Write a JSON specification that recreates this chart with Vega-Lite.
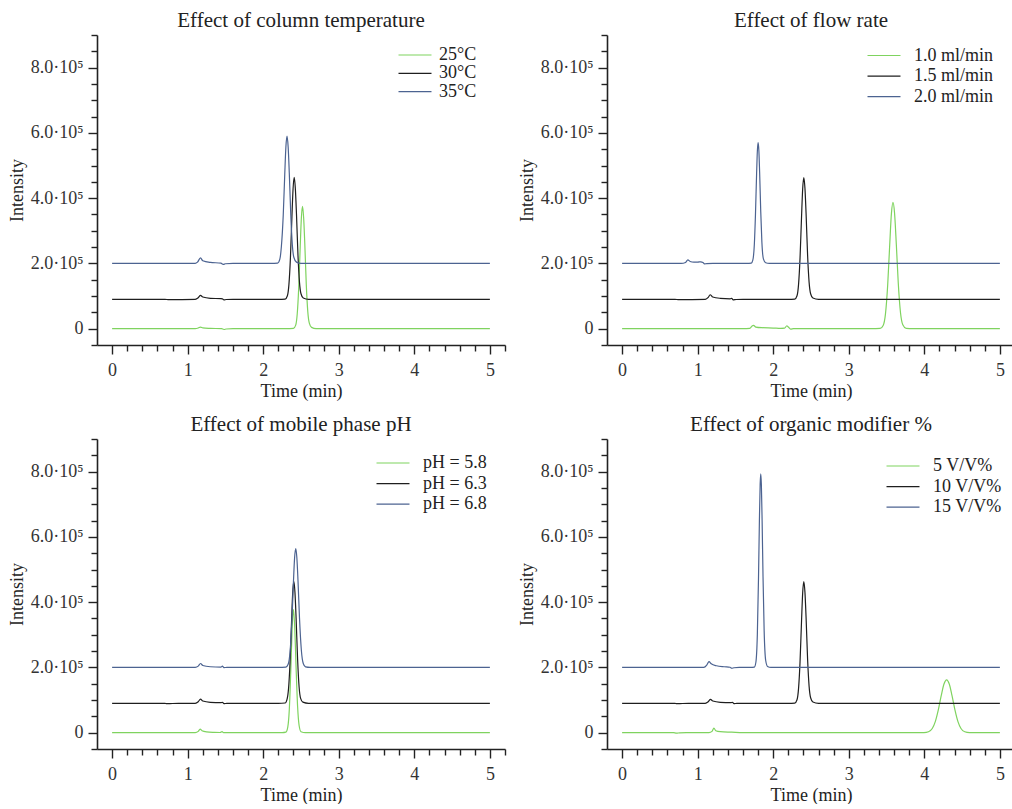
{
  "$schema": "https://vega.github.io/schema/vega-lite/v6.json",
  "background": "white",
  "padding": {"left": 8, "top": 10, "right": 0, "bottom": 0},
  "config": {
    "font": "Liberation Serif",
    "view": {"stroke": null},
    "axis": {
      "grid": false,
      "domainColor": "#222222",
      "domainWidth": 1.6,
      "tickColor": "#222222",
      "tickWidth": 1.4,
      "labelFont": "Liberation Serif",
      "labelFontSize": 18,
      "labelColor": "#333333",
      "labelOverlap": false,
      "labelFlush": false,
      "titleFont": "Liberation Serif",
      "titleFontSize": 18,
      "titleFontWeight": "normal",
      "titleColor": "#222222"
    },
    "title": {"font": "Liberation Serif", "fontSize": 21, "fontWeight": "normal", "color": "#222222", "baseline": "alphabetic", "offset": -5, "anchor": "middle", "frame": "group"},
    "legend": {
      "orient": "none",
      "title": null,
      "symbolType": "M-2,0H2",
      "symbolSize": 272,
      "symbolStrokeWidth": 1.5,
      "labelFont": "Liberation Serif",
      "labelFontSize": 18,
      "labelColor": "#222222",
      "rowPadding": 2.6,
      "padding": 0
    },
    "line": {"strokeWidth": 1.2, "interpolate": "monotone"}
  },
  "datasets": {
    "p1": [
      {"s": "25°C", "t": 0, "y": 0}, {"s": "25°C", "t": 0.7, "y": 0}, {"s": "25°C", "t": 1.1, "y": 0}, {"s": "25°C", "t": 1.14, "y": 2000}, {"s": "25°C", "t": 1.17, "y": 5000}, {"s": "25°C", "t": 1.2, "y": 2500}, {"s": "25°C", "t": 1.3, "y": 1000}, {"s": "25°C", "t": 1.45, "y": 0}, {"s": "25°C", "t": 1.48, "y": -2500}, {"s": "25°C", "t": 1.51, "y": -1000}, {"s": "25°C", "t": 1.6, "y": 0}, {"s": "25°C", "t": 2.3, "y": 0},
      {"s": "25°C", "t": 2.4, "y": 1000}, {"s": "25°C", "t": 2.43, "y": 11000}, {"s": "25°C", "t": 2.45, "y": 45000}, {"s": "25°C", "t": 2.47, "y": 127000}, {"s": "25°C", "t": 2.49, "y": 254000}, {"s": "25°C", "t": 2.505, "y": 340000}, {"s": "25°C", "t": 2.52, "y": 375000}, {"s": "25°C", "t": 2.535, "y": 340000}, {"s": "25°C", "t": 2.55, "y": 262000}, {"s": "25°C", "t": 2.57, "y": 135000}, {"s": "25°C", "t": 2.59, "y": 52000}, {"s": "25°C", "t": 2.61, "y": 17000}, {"s": "25°C", "t": 2.64, "y": 4000}, {"s": "25°C", "t": 2.7, "y": 0}, {"s": "25°C", "t": 5.0, "y": 0},
      {"s": "30°C", "t": 0, "y": 90000}, {"s": "30°C", "t": 0.7, "y": 90000}, {"s": "30°C", "t": 0.75, "y": 89000}, {"s": "30°C", "t": 1.1, "y": 90000}, {"s": "30°C", "t": 1.14, "y": 95000}, {"s": "30°C", "t": 1.17, "y": 102000}, {"s": "30°C", "t": 1.2, "y": 97000}, {"s": "30°C", "t": 1.3, "y": 93000}, {"s": "30°C", "t": 1.44, "y": 92000}, {"s": "30°C", "t": 1.46, "y": 91500}, {"s": "30°C", "t": 1.48, "y": 88000}, {"s": "30°C", "t": 1.51, "y": 89500}, {"s": "30°C", "t": 1.6, "y": 90000}, {"s": "30°C", "t": 2.2, "y": 90000},
      {"s": "30°C", "t": 2.29, "y": 90700}, {"s": "30°C", "t": 2.32, "y": 101000}, {"s": "30°C", "t": 2.34, "y": 135000}, {"s": "30°C", "t": 2.36, "y": 217000}, {"s": "30°C", "t": 2.38, "y": 344000}, {"s": "30°C", "t": 2.395, "y": 429000}, {"s": "30°C", "t": 2.41, "y": 464000}, {"s": "30°C", "t": 2.425, "y": 430000}, {"s": "30°C", "t": 2.44, "y": 352000}, {"s": "30°C", "t": 2.46, "y": 225000}, {"s": "30°C", "t": 2.48, "y": 142000}, {"s": "30°C", "t": 2.5, "y": 107000}, {"s": "30°C", "t": 2.53, "y": 94000}, {"s": "30°C", "t": 2.6, "y": 90000}, {"s": "30°C", "t": 5.0, "y": 90000},
      {"s": "35°C", "t": 0, "y": 200000}, {"s": "35°C", "t": 1.1, "y": 200000}, {"s": "35°C", "t": 1.13, "y": 204000}, {"s": "35°C", "t": 1.17, "y": 217000}, {"s": "35°C", "t": 1.2, "y": 208000}, {"s": "35°C", "t": 1.3, "y": 203000}, {"s": "35°C", "t": 1.44, "y": 201000}, {"s": "35°C", "t": 1.47, "y": 197000}, {"s": "35°C", "t": 1.5, "y": 199000}, {"s": "35°C", "t": 1.6, "y": 200000}, {"s": "35°C", "t": 2.1, "y": 200000},
      {"s": "35°C", "t": 2.19, "y": 200800}, {"s": "35°C", "t": 2.22, "y": 213000}, {"s": "35°C", "t": 2.24, "y": 251000}, {"s": "35°C", "t": 2.265, "y": 348000}, {"s": "35°C", "t": 2.285, "y": 473000}, {"s": "35°C", "t": 2.3, "y": 557000}, {"s": "35°C", "t": 2.315, "y": 590000}, {"s": "35°C", "t": 2.33, "y": 557000}, {"s": "35°C", "t": 2.345, "y": 477000}, {"s": "35°C", "t": 2.365, "y": 348000}, {"s": "35°C", "t": 2.385, "y": 258000}, {"s": "35°C", "t": 2.405, "y": 219000}, {"s": "35°C", "t": 2.44, "y": 204000}, {"s": "35°C", "t": 2.5, "y": 200000}, {"s": "35°C", "t": 5.0, "y": 200000}
    ],
    "p2": [
      {"s": "1.0 ml/min", "t": 0, "y": 0}, {"s": "1.0 ml/min", "t": 1.6, "y": 0}, {"s": "1.0 ml/min", "t": 1.69, "y": 1000}, {"s": "1.0 ml/min", "t": 1.72, "y": 8000}, {"s": "1.0 ml/min", "t": 1.74, "y": 10000}, {"s": "1.0 ml/min", "t": 1.77, "y": 5000}, {"s": "1.0 ml/min", "t": 1.85, "y": 3000}, {"s": "1.0 ml/min", "t": 2.0, "y": 2000}, {"s": "1.0 ml/min", "t": 2.1, "y": 1000}, {"s": "1.0 ml/min", "t": 2.15, "y": 1500}, {"s": "1.0 ml/min", "t": 2.18, "y": 9000}, {"s": "1.0 ml/min", "t": 2.2, "y": 5000}, {"s": "1.0 ml/min", "t": 2.23, "y": -1500}, {"s": "1.0 ml/min", "t": 2.27, "y": 0}, {"s": "1.0 ml/min", "t": 3.3, "y": 0},
      {"s": "1.0 ml/min", "t": 3.415, "y": 700}, {"s": "1.0 ml/min", "t": 3.455, "y": 10000}, {"s": "1.0 ml/min", "t": 3.485, "y": 44000}, {"s": "1.0 ml/min", "t": 3.515, "y": 134000}, {"s": "1.0 ml/min", "t": 3.54, "y": 249000}, {"s": "1.0 ml/min", "t": 3.565, "y": 355000}, {"s": "1.0 ml/min", "t": 3.585, "y": 387000}, {"s": "1.0 ml/min", "t": 3.605, "y": 357000}, {"s": "1.0 ml/min", "t": 3.63, "y": 255000}, {"s": "1.0 ml/min", "t": 3.655, "y": 140000}, {"s": "1.0 ml/min", "t": 3.685, "y": 48000}, {"s": "1.0 ml/min", "t": 3.715, "y": 12000}, {"s": "1.0 ml/min", "t": 3.76, "y": 1000}, {"s": "1.0 ml/min", "t": 3.85, "y": 0}, {"s": "1.0 ml/min", "t": 5.0, "y": 0},
      {"s": "1.5 ml/min", "t": 0, "y": 90000}, {"s": "1.5 ml/min", "t": 0.7, "y": 90000}, {"s": "1.5 ml/min", "t": 0.75, "y": 89000}, {"s": "1.5 ml/min", "t": 1.1, "y": 90000}, {"s": "1.5 ml/min", "t": 1.14, "y": 96000}, {"s": "1.5 ml/min", "t": 1.165, "y": 104000}, {"s": "1.5 ml/min", "t": 1.2, "y": 97000}, {"s": "1.5 ml/min", "t": 1.3, "y": 93000}, {"s": "1.5 ml/min", "t": 1.43, "y": 91500}, {"s": "1.5 ml/min", "t": 1.45, "y": 93000}, {"s": "1.5 ml/min", "t": 1.47, "y": 88500}, {"s": "1.5 ml/min", "t": 1.51, "y": 89500}, {"s": "1.5 ml/min", "t": 1.6, "y": 90000}, {"s": "1.5 ml/min", "t": 2.2, "y": 90000},
      {"s": "1.5 ml/min", "t": 2.285, "y": 90700}, {"s": "1.5 ml/min", "t": 2.315, "y": 101000}, {"s": "1.5 ml/min", "t": 2.335, "y": 135000}, {"s": "1.5 ml/min", "t": 2.355, "y": 217000}, {"s": "1.5 ml/min", "t": 2.375, "y": 344000}, {"s": "1.5 ml/min", "t": 2.39, "y": 429000}, {"s": "1.5 ml/min", "t": 2.405, "y": 463000}, {"s": "1.5 ml/min", "t": 2.42, "y": 430000}, {"s": "1.5 ml/min", "t": 2.435, "y": 352000}, {"s": "1.5 ml/min", "t": 2.455, "y": 225000}, {"s": "1.5 ml/min", "t": 2.475, "y": 142000}, {"s": "1.5 ml/min", "t": 2.495, "y": 107000}, {"s": "1.5 ml/min", "t": 2.525, "y": 94000}, {"s": "1.5 ml/min", "t": 2.6, "y": 90000}, {"s": "1.5 ml/min", "t": 5.0, "y": 90000},
      {"s": "2.0 ml/min", "t": 0, "y": 200000}, {"s": "2.0 ml/min", "t": 0.78, "y": 200000}, {"s": "2.0 ml/min", "t": 0.84, "y": 203000}, {"s": "2.0 ml/min", "t": 0.87, "y": 211000}, {"s": "2.0 ml/min", "t": 0.9, "y": 206000}, {"s": "2.0 ml/min", "t": 0.95, "y": 204000}, {"s": "2.0 ml/min", "t": 1.0, "y": 204000}, {"s": "2.0 ml/min", "t": 1.04, "y": 205000}, {"s": "2.0 ml/min", "t": 1.07, "y": 203000}, {"s": "2.0 ml/min", "t": 1.09, "y": 198500}, {"s": "2.0 ml/min", "t": 1.12, "y": 199500}, {"s": "2.0 ml/min", "t": 1.2, "y": 200000}, {"s": "2.0 ml/min", "t": 1.65, "y": 200000},
      {"s": "2.0 ml/min", "t": 1.71, "y": 200900}, {"s": "2.0 ml/min", "t": 1.73, "y": 210000}, {"s": "2.0 ml/min", "t": 1.75, "y": 258000}, {"s": "2.0 ml/min", "t": 1.765, "y": 350000}, {"s": "2.0 ml/min", "t": 1.78, "y": 475000}, {"s": "2.0 ml/min", "t": 1.79, "y": 544000}, {"s": "2.0 ml/min", "t": 1.8, "y": 570000}, {"s": "2.0 ml/min", "t": 1.81, "y": 546000}, {"s": "2.0 ml/min", "t": 1.82, "y": 480000}, {"s": "2.0 ml/min", "t": 1.835, "y": 358000}, {"s": "2.0 ml/min", "t": 1.85, "y": 265000}, {"s": "2.0 ml/min", "t": 1.87, "y": 214000}, {"s": "2.0 ml/min", "t": 1.9, "y": 202000}, {"s": "2.0 ml/min", "t": 1.95, "y": 200000}, {"s": "2.0 ml/min", "t": 5.0, "y": 200000}
    ],
    "p3": [
      {"s": "pH = 5.8", "t": 0, "y": 0}, {"s": "pH = 5.8", "t": 1.1, "y": 0}, {"s": "pH = 5.8", "t": 1.14, "y": 4000}, {"s": "pH = 5.8", "t": 1.165, "y": 11000}, {"s": "pH = 5.8", "t": 1.19, "y": 6000}, {"s": "pH = 5.8", "t": 1.25, "y": 2500}, {"s": "pH = 5.8", "t": 1.35, "y": 1000}, {"s": "pH = 5.8", "t": 1.43, "y": 500}, {"s": "pH = 5.8", "t": 1.455, "y": 3500}, {"s": "pH = 5.8", "t": 1.475, "y": 0}, {"s": "pH = 5.8", "t": 1.55, "y": 0}, {"s": "pH = 5.8", "t": 2.25, "y": 0},
      {"s": "pH = 5.8", "t": 2.3, "y": 1500}, {"s": "pH = 5.8", "t": 2.325, "y": 17000}, {"s": "pH = 5.8", "t": 2.345, "y": 70000}, {"s": "pH = 5.8", "t": 2.365, "y": 191000}, {"s": "pH = 5.8", "t": 2.382, "y": 315000}, {"s": "pH = 5.8", "t": 2.4, "y": 377000}, {"s": "pH = 5.8", "t": 2.418, "y": 318000}, {"s": "pH = 5.8", "t": 2.435, "y": 200000}, {"s": "pH = 5.8", "t": 2.455, "y": 80000}, {"s": "pH = 5.8", "t": 2.475, "y": 22000}, {"s": "pH = 5.8", "t": 2.5, "y": 3000}, {"s": "pH = 5.8", "t": 2.56, "y": 0}, {"s": "pH = 5.8", "t": 5.0, "y": 0},
      {"s": "pH = 6.3", "t": 0, "y": 90000}, {"s": "pH = 6.3", "t": 0.7, "y": 90000}, {"s": "pH = 6.3", "t": 0.72, "y": 89000}, {"s": "pH = 6.3", "t": 0.8, "y": 89500}, {"s": "pH = 6.3", "t": 1.1, "y": 90000}, {"s": "pH = 6.3", "t": 1.14, "y": 95000}, {"s": "pH = 6.3", "t": 1.17, "y": 103000}, {"s": "pH = 6.3", "t": 1.2, "y": 97000}, {"s": "pH = 6.3", "t": 1.3, "y": 93000}, {"s": "pH = 6.3", "t": 1.44, "y": 92000}, {"s": "pH = 6.3", "t": 1.46, "y": 93000}, {"s": "pH = 6.3", "t": 1.48, "y": 89000}, {"s": "pH = 6.3", "t": 1.52, "y": 90000}, {"s": "pH = 6.3", "t": 2.2, "y": 90000},
      {"s": "pH = 6.3", "t": 2.29, "y": 91000}, {"s": "pH = 6.3", "t": 2.315, "y": 102000}, {"s": "pH = 6.3", "t": 2.335, "y": 135000}, {"s": "pH = 6.3", "t": 2.355, "y": 215000}, {"s": "pH = 6.3", "t": 2.375, "y": 340000}, {"s": "pH = 6.3", "t": 2.39, "y": 428000}, {"s": "pH = 6.3", "t": 2.405, "y": 464000}, {"s": "pH = 6.3", "t": 2.42, "y": 430000}, {"s": "pH = 6.3", "t": 2.435, "y": 352000}, {"s": "pH = 6.3", "t": 2.455, "y": 225000}, {"s": "pH = 6.3", "t": 2.475, "y": 140000}, {"s": "pH = 6.3", "t": 2.495, "y": 105000}, {"s": "pH = 6.3", "t": 2.525, "y": 93500}, {"s": "pH = 6.3", "t": 2.6, "y": 90000}, {"s": "pH = 6.3", "t": 5.0, "y": 90000},
      {"s": "pH = 6.8", "t": 0, "y": 200000}, {"s": "pH = 6.8", "t": 1.1, "y": 200000}, {"s": "pH = 6.8", "t": 1.14, "y": 204000}, {"s": "pH = 6.8", "t": 1.17, "y": 212000}, {"s": "pH = 6.8", "t": 1.2, "y": 206000}, {"s": "pH = 6.8", "t": 1.3, "y": 202000}, {"s": "pH = 6.8", "t": 1.44, "y": 201000}, {"s": "pH = 6.8", "t": 1.46, "y": 204000}, {"s": "pH = 6.8", "t": 1.48, "y": 199500}, {"s": "pH = 6.8", "t": 1.52, "y": 200000}, {"s": "pH = 6.8", "t": 2.2, "y": 200000},
      {"s": "pH = 6.8", "t": 2.3, "y": 200800}, {"s": "pH = 6.8", "t": 2.33, "y": 209500}, {"s": "pH = 6.8", "t": 2.355, "y": 247000}, {"s": "pH = 6.8", "t": 2.38, "y": 346000}, {"s": "pH = 6.8", "t": 2.4, "y": 462000}, {"s": "pH = 6.8", "t": 2.415, "y": 535000}, {"s": "pH = 6.8", "t": 2.43, "y": 564000}, {"s": "pH = 6.8", "t": 2.445, "y": 537000}, {"s": "pH = 6.8", "t": 2.46, "y": 468000}, {"s": "pH = 6.8", "t": 2.48, "y": 352000}, {"s": "pH = 6.8", "t": 2.505, "y": 252000}, {"s": "pH = 6.8", "t": 2.53, "y": 212000}, {"s": "pH = 6.8", "t": 2.56, "y": 201500}, {"s": "pH = 6.8", "t": 2.62, "y": 200000}, {"s": "pH = 6.8", "t": 5.0, "y": 200000}
    ],
    "p4": [
      {"s": "5 V/V%", "t": 0, "y": 0}, {"s": "5 V/V%", "t": 0.68, "y": 0}, {"s": "5 V/V%", "t": 0.72, "y": -1500}, {"s": "5 V/V%", "t": 0.76, "y": -500}, {"s": "5 V/V%", "t": 0.85, "y": 0}, {"s": "5 V/V%", "t": 1.15, "y": 0}, {"s": "5 V/V%", "t": 1.19, "y": 4000}, {"s": "5 V/V%", "t": 1.215, "y": 14000}, {"s": "5 V/V%", "t": 1.24, "y": 6000}, {"s": "5 V/V%", "t": 1.3, "y": 3000}, {"s": "5 V/V%", "t": 1.45, "y": 1500}, {"s": "5 V/V%", "t": 1.6, "y": 0}, {"s": "5 V/V%", "t": 3.9, "y": 0},
      {"s": "5 V/V%", "t": 3.995, "y": 300}, {"s": "5 V/V%", "t": 4.055, "y": 3000}, {"s": "5 V/V%", "t": 4.105, "y": 13000}, {"s": "5 V/V%", "t": 4.145, "y": 34000}, {"s": "5 V/V%", "t": 4.185, "y": 70000}, {"s": "5 V/V%", "t": 4.225, "y": 115000}, {"s": "5 V/V%", "t": 4.26, "y": 149000}, {"s": "5 V/V%", "t": 4.295, "y": 162000}, {"s": "5 V/V%", "t": 4.33, "y": 149000}, {"s": "5 V/V%", "t": 4.365, "y": 115000}, {"s": "5 V/V%", "t": 4.405, "y": 70000}, {"s": "5 V/V%", "t": 4.445, "y": 34000}, {"s": "5 V/V%", "t": 4.485, "y": 13000}, {"s": "5 V/V%", "t": 4.535, "y": 3000}, {"s": "5 V/V%", "t": 4.6, "y": 300}, {"s": "5 V/V%", "t": 4.7, "y": 0}, {"s": "5 V/V%", "t": 5.0, "y": 0},
      {"s": "10 V/V%", "t": 0, "y": 90000}, {"s": "10 V/V%", "t": 0.7, "y": 90000}, {"s": "10 V/V%", "t": 0.72, "y": 89000}, {"s": "10 V/V%", "t": 0.8, "y": 89500}, {"s": "10 V/V%", "t": 1.1, "y": 90000}, {"s": "10 V/V%", "t": 1.14, "y": 95000}, {"s": "10 V/V%", "t": 1.17, "y": 102000}, {"s": "10 V/V%", "t": 1.2, "y": 97000}, {"s": "10 V/V%", "t": 1.3, "y": 93000}, {"s": "10 V/V%", "t": 1.44, "y": 92000}, {"s": "10 V/V%", "t": 1.46, "y": 93000}, {"s": "10 V/V%", "t": 1.48, "y": 89000}, {"s": "10 V/V%", "t": 1.52, "y": 90000}, {"s": "10 V/V%", "t": 2.2, "y": 90000},
      {"s": "10 V/V%", "t": 2.285, "y": 90700}, {"s": "10 V/V%", "t": 2.315, "y": 101000}, {"s": "10 V/V%", "t": 2.335, "y": 135000}, {"s": "10 V/V%", "t": 2.355, "y": 217000}, {"s": "10 V/V%", "t": 2.375, "y": 344000}, {"s": "10 V/V%", "t": 2.39, "y": 429000}, {"s": "10 V/V%", "t": 2.405, "y": 463000}, {"s": "10 V/V%", "t": 2.42, "y": 430000}, {"s": "10 V/V%", "t": 2.435, "y": 352000}, {"s": "10 V/V%", "t": 2.455, "y": 225000}, {"s": "10 V/V%", "t": 2.475, "y": 142000}, {"s": "10 V/V%", "t": 2.495, "y": 107000}, {"s": "10 V/V%", "t": 2.525, "y": 94000}, {"s": "10 V/V%", "t": 2.6, "y": 90000}, {"s": "10 V/V%", "t": 5.0, "y": 90000},
      {"s": "15 V/V%", "t": 0, "y": 200000}, {"s": "15 V/V%", "t": 1.08, "y": 200000}, {"s": "15 V/V%", "t": 1.12, "y": 207000}, {"s": "15 V/V%", "t": 1.15, "y": 218000}, {"s": "15 V/V%", "t": 1.18, "y": 211000}, {"s": "15 V/V%", "t": 1.25, "y": 205000}, {"s": "15 V/V%", "t": 1.35, "y": 202000}, {"s": "15 V/V%", "t": 1.43, "y": 200500}, {"s": "15 V/V%", "t": 1.45, "y": 197500}, {"s": "15 V/V%", "t": 1.48, "y": 199000}, {"s": "15 V/V%", "t": 1.55, "y": 200000}, {"s": "15 V/V%", "t": 1.7, "y": 200000},
      {"s": "15 V/V%", "t": 1.75, "y": 201100}, {"s": "15 V/V%", "t": 1.77, "y": 215000}, {"s": "15 V/V%", "t": 1.79, "y": 302000}, {"s": "15 V/V%", "t": 1.805, "y": 472000}, {"s": "15 V/V%", "t": 1.817, "y": 648000}, {"s": "15 V/V%", "t": 1.827, "y": 761000}, {"s": "15 V/V%", "t": 1.835, "y": 793000}, {"s": "15 V/V%", "t": 1.843, "y": 761000}, {"s": "15 V/V%", "t": 1.853, "y": 650000}, {"s": "15 V/V%", "t": 1.865, "y": 478000}, {"s": "15 V/V%", "t": 1.88, "y": 312000}, {"s": "15 V/V%", "t": 1.9, "y": 222000}, {"s": "15 V/V%", "t": 1.925, "y": 203000}, {"s": "15 V/V%", "t": 1.97, "y": 200000}, {"s": "15 V/V%", "t": 5.0, "y": 200000}
    ]
  },
  "columns": 2,
  "spacing": {"column": 12, "row": 14},
  "resolve": {"scale": {"color": "independent"}, "legend": {"color": "independent"}},
  "concat": [
    {
      "title": "Effect of column temperature",
      "width": 408, "height": 310,
      "data": {"name": "p1"},
      "mark": {"type": "line"},
      "encoding": {
        "x": {"field": "t", "type": "quantitative", "scale": {"domain": [-0.2, 5.2], "nice": false, "zero": false},
          "axis": {"title": "Time (min)", "labelFont": "Liberation Serif", "labelFontSize": 18, "titleFont": "Liberation Serif", "titleFontSize": 18, "values": [0, 0.2, 0.4, 0.6, 0.8, 1, 1.2, 1.4, 1.6, 1.8, 2, 2.2, 2.4, 2.6, 2.8, 3, 3.2, 3.4, 3.6, 3.8, 4, 4.2, 4.4, 4.6, 4.8, 5, 5.2],
            "labelExpr": "abs(datum.value - round(datum.value)) < 0.001 && datum.value < 5.1 ? format(datum.value, 'd') : ''",
            "tickSize": {"condition": {"test": "abs(datum.value - round(datum.value)) < 0.001", "value": 9}, "value": 6},
            "labelPadding": 7, "titlePadding": 3}},
        "y": {"field": "y", "type": "quantitative", "scale": {"domain": [-50000, 900000], "nice": false, "zero": false},
          "axis": {"title": "Intensity", "labelFont": "Liberation Serif", "labelFontSize": 18, "titleFont": "Liberation Serif", "titleFontSize": 18, "values": [-50000, 0, 50000, 100000, 150000, 200000, 250000, 300000, 350000, 400000, 450000, 500000, 550000, 600000, 650000, 700000, 750000, 800000, 850000, 900000],
            "labelExpr": "datum.value === 0 ? '0' : (datum.value > 0 && datum.value % 200000 === 0 ? format(datum.value / 100000, '.1f') + '·10⁵' : '')",
            "tickSize": {"condition": {"test": "datum.value % 200000 === 0", "value": 9}, "value": 6},
            "labelPadding": 5, "titlePadding": 4}},
        "color": {"field": "s", "type": "nominal", "scale": {"domain": ["25°C", "30°C", "35°C"], "range": ["#7fd35f", "#1e1e1e", "#4c6391"]},
          "legend": {"legendX": 309, "legendY": 11, "labelOffset": 15, "rowPadding": 0.3}}
      }
    },
    {
      "title": "Effect of flow rate",
      "width": 408, "height": 310,
      "data": {"name": "p2"},
      "mark": {"type": "line"},
      "encoding": {
        "x": {"field": "t", "type": "quantitative", "scale": {"domain": [-0.2, 5.2], "nice": false, "zero": false},
          "axis": {"title": "Time (min)", "labelFont": "Liberation Serif", "labelFontSize": 18, "titleFont": "Liberation Serif", "titleFontSize": 18, "values": [0, 0.2, 0.4, 0.6, 0.8, 1, 1.2, 1.4, 1.6, 1.8, 2, 2.2, 2.4, 2.6, 2.8, 3, 3.2, 3.4, 3.6, 3.8, 4, 4.2, 4.4, 4.6, 4.8, 5, 5.2],
            "labelExpr": "abs(datum.value - round(datum.value)) < 0.001 && datum.value < 5.1 ? format(datum.value, 'd') : ''",
            "tickSize": {"condition": {"test": "abs(datum.value - round(datum.value)) < 0.001", "value": 9}, "value": 6},
            "labelPadding": 7, "titlePadding": 3}},
        "y": {"field": "y", "type": "quantitative", "scale": {"domain": [-50000, 900000], "nice": false, "zero": false},
          "axis": {"title": "Intensity", "labelFont": "Liberation Serif", "labelFontSize": 18, "titleFont": "Liberation Serif", "titleFontSize": 18, "values": [-50000, 0, 50000, 100000, 150000, 200000, 250000, 300000, 350000, 400000, 450000, 500000, 550000, 600000, 650000, 700000, 750000, 800000, 850000, 900000],
            "labelExpr": "datum.value === 0 ? '0' : (datum.value > 0 && datum.value % 200000 === 0 ? format(datum.value / 100000, '.1f') + '·10⁵' : '')",
            "tickSize": {"condition": {"test": "datum.value % 200000 === 0", "value": 9}, "value": 6},
            "labelPadding": 5, "titlePadding": 4}},
        "color": {"field": "s", "type": "nominal", "scale": {"domain": ["1.0 ml/min", "1.5 ml/min", "2.0 ml/min"], "range": ["#7fd35f", "#1e1e1e", "#4c6391"]},
          "legend": {"legendX": 268, "legendY": 11.5, "labelOffset": 21}}
      }
    },
    {
      "title": "Effect of mobile phase pH",
      "width": 408, "height": 310,
      "data": {"name": "p3"},
      "mark": {"type": "line"},
      "encoding": {
        "x": {"field": "t", "type": "quantitative", "scale": {"domain": [-0.2, 5.2], "nice": false, "zero": false},
          "axis": {"title": "Time (min)", "labelFont": "Liberation Serif", "labelFontSize": 18, "titleFont": "Liberation Serif", "titleFontSize": 18, "values": [0, 0.2, 0.4, 0.6, 0.8, 1, 1.2, 1.4, 1.6, 1.8, 2, 2.2, 2.4, 2.6, 2.8, 3, 3.2, 3.4, 3.6, 3.8, 4, 4.2, 4.4, 4.6, 4.8, 5, 5.2],
            "labelExpr": "abs(datum.value - round(datum.value)) < 0.001 && datum.value < 5.1 ? format(datum.value, 'd') : ''",
            "tickSize": {"condition": {"test": "abs(datum.value - round(datum.value)) < 0.001", "value": 9}, "value": 6},
            "labelPadding": 7, "titlePadding": 3}},
        "y": {"field": "y", "type": "quantitative", "scale": {"domain": [-50000, 900000], "nice": false, "zero": false},
          "axis": {"title": "Intensity", "labelFont": "Liberation Serif", "labelFontSize": 18, "titleFont": "Liberation Serif", "titleFontSize": 18, "values": [-50000, 0, 50000, 100000, 150000, 200000, 250000, 300000, 350000, 400000, 450000, 500000, 550000, 600000, 650000, 700000, 750000, 800000, 850000, 900000],
            "labelExpr": "datum.value === 0 ? '0' : (datum.value > 0 && datum.value % 200000 === 0 ? format(datum.value / 100000, '.1f') + '·10⁵' : '')",
            "tickSize": {"condition": {"test": "datum.value % 200000 === 0", "value": 9}, "value": 6},
            "labelPadding": 5, "titlePadding": 4}},
        "color": {"field": "s", "type": "nominal", "scale": {"domain": ["pH = 5.8", "pH = 6.3", "pH = 6.8"], "range": ["#7fd35f", "#1e1e1e", "#4c6391"]},
          "legend": {"legendX": 287, "legendY": 15, "labelOffset": 21}}
      }
    },
    {
      "title": "Effect of organic modifier %",
      "width": 408, "height": 310,
      "data": {"name": "p4"},
      "mark": {"type": "line"},
      "encoding": {
        "x": {"field": "t", "type": "quantitative", "scale": {"domain": [-0.2, 5.2], "nice": false, "zero": false},
          "axis": {"title": "Time (min)", "labelFont": "Liberation Serif", "labelFontSize": 18, "titleFont": "Liberation Serif", "titleFontSize": 18, "values": [0, 0.2, 0.4, 0.6, 0.8, 1, 1.2, 1.4, 1.6, 1.8, 2, 2.2, 2.4, 2.6, 2.8, 3, 3.2, 3.4, 3.6, 3.8, 4, 4.2, 4.4, 4.6, 4.8, 5, 5.2],
            "labelExpr": "abs(datum.value - round(datum.value)) < 0.001 && datum.value < 5.1 ? format(datum.value, 'd') : ''",
            "tickSize": {"condition": {"test": "abs(datum.value - round(datum.value)) < 0.001", "value": 9}, "value": 6},
            "labelPadding": 7, "titlePadding": 3}},
        "y": {"field": "y", "type": "quantitative", "scale": {"domain": [-50000, 900000], "nice": false, "zero": false},
          "axis": {"title": "Intensity", "labelFont": "Liberation Serif", "labelFontSize": 18, "titleFont": "Liberation Serif", "titleFontSize": 18, "values": [-50000, 0, 50000, 100000, 150000, 200000, 250000, 300000, 350000, 400000, 450000, 500000, 550000, 600000, 650000, 700000, 750000, 800000, 850000, 900000],
            "labelExpr": "datum.value === 0 ? '0' : (datum.value > 0 && datum.value % 200000 === 0 ? format(datum.value / 100000, '.1f') + '·10⁵' : '')",
            "tickSize": {"condition": {"test": "datum.value % 200000 === 0", "value": 9}, "value": 6},
            "labelPadding": 5, "titlePadding": 4}},
        "color": {"field": "s", "type": "nominal", "scale": {"domain": ["5 V/V%", "10 V/V%", "15 V/V%"], "range": ["#7fd35f", "#1e1e1e", "#4c6391"]},
          "legend": {"legendX": 287, "legendY": 18, "labelOffset": 21}}
      }
    }
  ]
}
